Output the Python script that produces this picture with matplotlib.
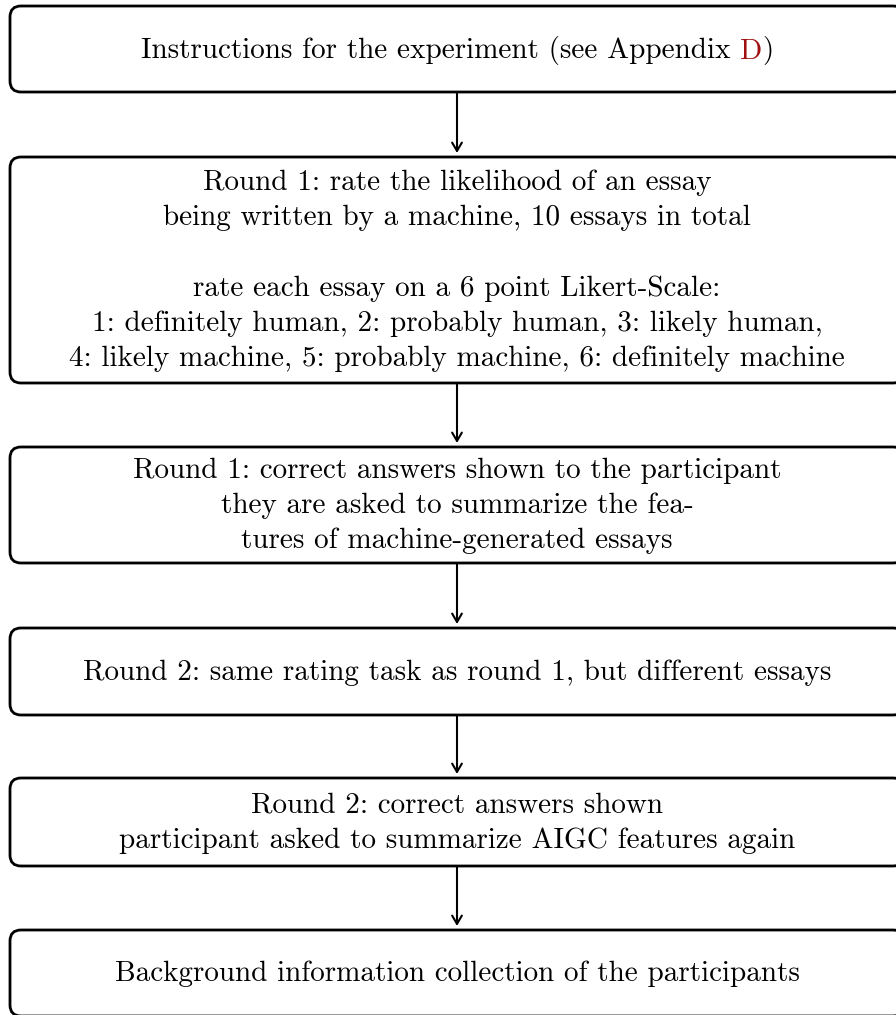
import matplotlib
matplotlib.use("Agg")
import matplotlib.pyplot as plt
from matplotlib.patches import FancyBboxPatch

# --- contenido de las cajas ---
step_texts = [
    "Instructions for the experiment (see Appendix |D|)",
    "Round 1: rate the likelihood of an essay\n"
    "being written by a machine, 10 essays in total\n"
    "\n"
    "rate each essay on a 6 point Likert-Scale:\n"
    "1: definitely human, 2: probably human, 3: likely human,\n"
    "4: likely machine, 5: probably machine, 6: definitely machine",
    "Round 1: correct answers shown to the participant\n"
    "they are asked to summarize the fea-\n"
    "tures of machine-generated essays",
    "Round 2: same rating task as round 1, but different essays",
    "Round 2: correct answers shown\n"
    "participant asked to summarize AIGC features again",
    "Background information collection of the participants",
]

# --- layout (pixeles) ---
W, H = 896, 1015
box_left, box_right = 10, 904
box_tops = [6, 157, 447, 628, 778, 930]
box_bottoms = [92, 383, 563, 715, 866, 1016]
link_color = "#a01010"

plt.rcParams["font.family"] = "cmr10"
plt.rcParams["axes.formatter.use_mathtext"] = True
FS = 21

fig = plt.figure(figsize=(W / 100, H / 100), dpi=100)
ax = fig.add_axes([0, 0, 1, 1])
ax.set_xlim(0, W)
ax.set_ylim(H, 0)
ax.axis("off")

cx = (box_left + box_right) / 2
for i, txt in enumerate(step_texts):
    top, bot = box_tops[i], box_bottoms[i]
    box = FancyBboxPatch((box_left, top), box_right - box_left, bot - top,
                         boxstyle="round,pad=0,rounding_size=11",
                         fc="white", ec="black", lw=2.0, clip_on=False)
    ax.add_patch(box)
    cy = (top + bot) / 2 + 1
    if "|" in txt:
        # texto con un trozo en rojo (enlace)
        a, b, c = txt.split("|")
        full = ax.text(cx, cy, a + b + c, fontsize=FS, ha="center", va="center", alpha=0)
        fig.canvas.draw()
        bb = full.get_window_extent()
        inv = ax.transData.inverted()
        x0, _ = inv.transform((bb.x0, bb.y0))
        t1 = ax.text(x0, cy, a, fontsize=FS, ha="left", va="center")
        t2 = ax.annotate(b, xy=(1, 0), xycoords=t1, va="bottom", ha="left",
                         fontsize=FS, color=link_color)
        ax.annotate(c, xy=(1, 0), xycoords=t2, va="bottom", ha="left", fontsize=FS)
    else:
        ax.text(cx, cy, txt, fontsize=FS, ha="center", va="center", linespacing=1.43)

    # flechas entre cajas
    if i < len(step_texts) - 1:
        ax.annotate("", xy=(457, box_tops[i + 1] - 4), xytext=(457, bot),
                    arrowprops=dict(arrowstyle="->,head_length=0.6,head_width=0.35",
                                    lw=1.5, color="black", shrinkA=0, shrinkB=0))

fig.savefig("out.png", dpi=100)
